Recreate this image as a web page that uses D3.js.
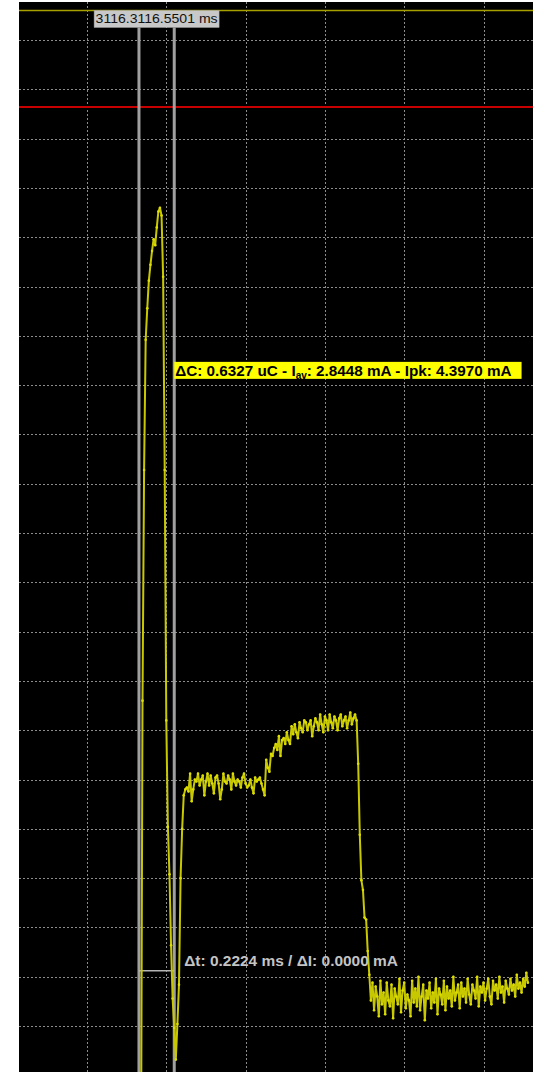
<!DOCTYPE html>
<html>
<head>
<meta charset="utf-8">
<script src="https://cdn.jsdelivr.net/npm/d3@7"></script>
<style>
  body { margin: 0; background: #fff; }
  svg { display: block; }
  text { font-family: "Liberation Sans", Arial, sans-serif; }
</style>
</head>
<body>
<script>
const W = 533, H = 1072;
const plot = { left: 19, top: 2, right: 533, bottom: 1072 };

// sampled trace: time in ms (one sample every 0.01 ms), current in mA
const sampleStart = 3116.340;
const samplePeriod = 0.01;

const pulseCurrent = [-0.60, 1.90, 3.07, 3.73, 3.89, 4.03, 4.11, 4.18, 4.24, 4.21,
  4.30, 4.38, 4.40, 4.36, 4.05, 3.07, 1.80, 1.26, 1.02, 0.66,
  0.39, 0.24, 0.08, 0.26, 0.46, 1.00, 1.25, 1.42];

const plateauCurrent = [
  1.45, 1.46, 1.44, 1.53, 1.39, 1.45, 1.50, 1.49, 1.53, 1.47,
  1.50, 1.52, 1.42, 1.49, 1.53, 1.47, 1.52, 1.48, 1.43, 1.51,
  1.52, 1.48, 1.40, 1.45, 1.53, 1.49, 1.48, 1.52, 1.50, 1.45,
  1.53, 1.49, 1.47, 1.50, 1.49, 1.46, 1.51, 1.53, 1.48, 1.46,
  1.47, 1.50, 1.46, 1.43, 1.51, 1.49, 1.50, 1.51, 1.48, 1.45,
  1.42, 1.60, 1.56, 1.54, 1.63, 1.62, 1.66, 1.68, 1.65, 1.72,
  1.62, 1.70, 1.71, 1.68, 1.74, 1.70, 1.68, 1.77, 1.73, 1.78,
  1.74, 1.71, 1.79, 1.76, 1.74, 1.80, 1.79, 1.75, 1.78, 1.80,
  1.72, 1.77, 1.81, 1.79, 1.75, 1.83, 1.78, 1.74, 1.82, 1.80,
  1.75, 1.83, 1.79, 1.76, 1.82, 1.80, 1.75, 1.81, 1.83, 1.77,
  1.80, 1.82, 1.76, 1.80, 1.84, 1.78, 1.81, 1.83, 1.80];

const dropCurrent = [1.58, 1.22, 0.99, 0.94, 0.80, 0.79, 0.63, 0.51];

const tailCurrent = [
  0.38, 0.47, 0.33, 0.45, 0.40, 0.30, 0.48, 0.36, 0.42, 0.31,
  0.47, 0.38, 0.35, 0.46, 0.29, 0.44, 0.40, 0.36, 0.49, 0.32,
  0.43, 0.47, 0.34, 0.41, 0.38, 0.30, 0.48, 0.37, 0.44, 0.35,
  0.50, 0.33, 0.40, 0.46, 0.28, 0.43, 0.39, 0.47, 0.34, 0.42,
  0.37, 0.49, 0.31, 0.44, 0.41, 0.36, 0.48, 0.33, 0.45, 0.39,
  0.43, 0.35, 0.50, 0.38, 0.42, 0.46, 0.34, 0.47, 0.40, 0.44,
  0.37, 0.49, 0.41, 0.36, 0.46, 0.43, 0.39, 0.50, 0.35, 0.45,
  0.42, 0.47, 0.38, 0.44, 0.49, 0.40, 0.36, 0.48, 0.43, 0.46,
  0.39, 0.50, 0.42, 0.45, 0.37, 0.48, 0.44, 0.41, 0.49, 0.43,
  0.46, 0.40, 0.51, 0.44, 0.47, 0.42, 0.49, 0.45, 0.52, 0.47];

const gridTimes = [3116.0, 3116.5, 3117.0, 3117.5, 3118.0, 3118.5];
const gridCurrents = [0.25, 0.50, 0.75, 1.00, 1.25, 1.50, 1.75, 2.00, 2.25, 2.50,
  2.75, 3.00, 3.25, 3.50, 3.75, 4.00, 4.25, 4.50, 4.75, 5.00, 5.25];

const cursorTimes = [3116.3277, 3116.5501];
const triggerLevel = 5.40;
const thresholdLevel = 4.91;
const deltaLevel = 0.53;
const labelLevel = 3.575;

const timeLabel = "3116.3116.5501 ms";
const chargeParts = ["ΔC: 0.6327 uC - I", "av", ": 2.8448 mA - Ipk: 4.3970 mA"];
const deltaLabel = "Δt: 0.2224 ms / ΔI: 0.0000 mA";

const current = pulseCurrent.concat(plateauCurrent, dropCurrent, tailCurrent);
const samples = current.map((v, i) => ({ t: sampleStart + i * samplePeriod, v: v }));

const x = d3.scaleLinear().domain([3115.5713, 3118.8121]).range([plot.left, plot.right]);
const y = d3.scaleLinear().domain([0.017, 5.443]).range([plot.bottom, plot.top]);

const svg = d3.select('body')
  .append('svg')
  .attr('width', W)
  .attr('height', H)
  .style("background-color", "white");

svg.append('defs').append('clipPath').attr('id', 'clip')
  .append('rect')
  .attr('x', plot.left).attr('y', plot.top)
  .attr('width', plot.right - plot.left).attr('height', plot.bottom - plot.top);

svg.append('rect')
  .attr('x', plot.left).attr('y', plot.top)
  .attr('width', plot.right - plot.left).attr('height', plot.bottom - plot.top)
  .attr('fill', '#000');

// dashed grid
const grid = svg.append('g').attr('stroke', '#8c8c8c').attr('stroke-width', 1).attr('stroke-dasharray', '2,2');
grid.selectAll('line.v')
  .data(gridTimes)
  .enter().append('line')
  .attr('class', 'v')
  .attr('x1', d => Math.round(x(d)) + 0.5).attr('x2', d => Math.round(x(d)) + 0.5)
  .attr('y1', plot.top).attr('y2', plot.bottom);
grid.selectAll('line.h')
  .data(gridCurrents)
  .enter().append('line')
  .attr('class', 'h')
  .attr('x1', plot.left).attr('x2', plot.right)
  .attr('y1', d => Math.round(y(d)) + 0.5).attr('y2', d => Math.round(y(d)) + 0.5);

// level lines
svg.append('line')
  .attr('x1', plot.left).attr('x2', plot.right)
  .attr('y1', y(triggerLevel)).attr('y2', y(triggerLevel))
  .attr('stroke', '#a8a000').attr('stroke-width', 1.5);
svg.append('line')
  .attr('x1', plot.left).attr('x2', plot.right)
  .attr('y1', y(thresholdLevel)).attr('y2', y(thresholdLevel))
  .attr('stroke', '#c80000').attr('stroke-width', 2);

// cursors
svg.selectAll('line.cursor')
  .data(cursorTimes)
  .enter().append('line')
  .attr('class', 'cursor')
  .attr('x1', d => x(d)).attr('x2', d => x(d))
  .attr('y1', y(triggerLevel) + 17).attr('y2', plot.bottom)
  .attr('stroke', '#a0a0a0').attr('stroke-width', 3);

svg.append('line')
  .attr('x1', x(cursorTimes[0])).attr('x2', x(cursorTimes[1]))
  .attr('y1', y(deltaLevel)).attr('y2', y(deltaLevel))
  .attr('stroke', '#b4b4b4').attr('stroke-width', 1.5);

// trace
const trace = svg.append('g').attr('clip-path', 'url(#clip)');
const line = d3.line().x(d => x(d.t)).y(d => y(d.v));
trace.append('path')
  .datum(samples)
  .attr('d', line)
  .attr('fill', 'none')
  .attr('stroke', '#c8c800')
  .attr('stroke-width', 2)
  .attr('stroke-linejoin', 'round');
trace.selectAll('circle')
  .data(samples)
  .enter().append('circle')
  .attr('cx', d => x(d.t))
  .attr('cy', d => y(d.v))
  .attr('r', 1.3)
  .attr('fill', '#dede00');

// time label centred between the cursors
const midX = (x(cursorTimes[0]) + x(cursorTimes[1])) / 2;
const tl = svg.append('g');
const tlText = tl.append('text')
  .attr('x', midX).attr('y', y(triggerLevel) + 13)
  .attr('text-anchor', 'middle')
  .style('font-size', '13px')
  .attr('textLength', 122)
  .attr('lengthAdjust', 'spacingAndGlyphs')
  .attr('fill', '#111')
  .text(timeLabel);
tl.insert('rect', 'text')
  .attr('x', midX - 62.5).attr('y', y(triggerLevel))
  .attr('width', 125).attr('height', 17)
  .attr('fill', '#c8c8c8').attr('stroke', '#a0a0a0').attr('stroke-width', 0.5);

// charge label
const cl = svg.append('g');
const clText = cl.append('text')
  .attr('x', x(cursorTimes[1]) + 1).attr('y', y(labelLevel) + 5.5)
  .style('font-size', '15px').style('font-weight', 'bold')
  .attr('fill', '#000');
clText.append('tspan').text(chargeParts[0]);
clText.append('tspan').text(chargeParts[1]).style('font-size', '10px').attr('dy', 3);
clText.append('tspan').text(chargeParts[2]).attr('dy', -3);
const cw = clText.node().getComputedTextLength();
clText.style('font-size', (15 * 337 / cw) + 'px');
const cb = clText.node().getBBox();
cl.insert('rect', 'text')
  .attr('x', cb.x - 1).attr('y', y(labelLevel) - 8.5)
  .attr('width', cb.width + 11).attr('height', 17)
  .attr('fill', '#ffff00');

// delta label
const dl = svg.append('text')
  .attr('x', x(cursorTimes[1]) + 10).attr('y', y(deltaLevel) - 5)
  .style('font-size', '15px').style('font-weight', 'bold')
  .attr('fill', '#c4c4c4')
  .text(deltaLabel);
const dw = dl.node().getComputedTextLength();
dl.style('font-size', (15 * 214 / dw) + 'px');
</script>
</body>
</html>
